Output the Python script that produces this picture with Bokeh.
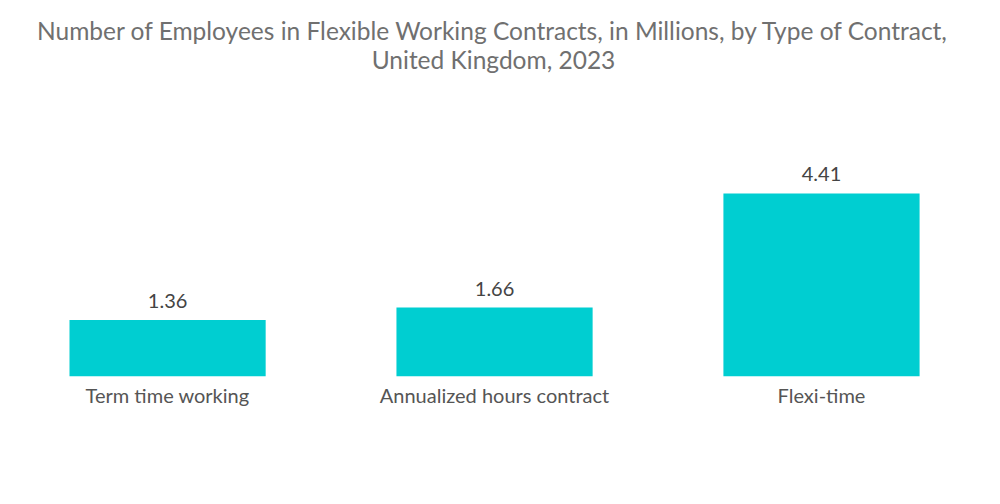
from bokeh.plotting import figure
from bokeh.models import ColumnDataSource, Range1d, Label, FixedTicker
from bokeh.core.properties import value
from bokeh.embed import file_html
from bokeh.resources import INLINE

categories = ["Term time working", "Annualized hours contract", "Flexi-time"]
values = [1.36, 1.66, 4.41]
value_labels = ["1.36", "1.66", "4.41"]
title_lines = ["Number of Employees in Flexible Working Contracts, in Millions, by Type of Contract,",
               "United Kingdom, 2023"]

FONT = "Lato"
BAR = "#00CED1"

xs = list(range(len(categories)))
src = ColumnDataSource(dict(x=xs, top=values, lab=value_labels))

p = figure(width=992, height=496, output_backend="svg", toolbar_location=None,
           x_range=Range1d(-0.511, 2.523), y_range=Range1d(0, 376 / 41.5),
           min_border_left=0, min_border_right=0, min_border_top=0, min_border_bottom=120)
p.outline_line_color = None
p.grid.visible = False
p.yaxis.visible = False

p.vbar(x="x", top="top", width=0.6, bottom=0, source=src, color=BAR, line_color=None)
p.text(x="x", y="top", text="lab", source=src, text_align="center", text_baseline="bottom",
       y_offset=-12, text_font=value(FONT), text_font_size="20px", text_color="#444444")

ax = p.xaxis[0]
ax.ticker = FixedTicker(ticks=xs)
ax.major_label_overrides = {i: c for i, c in enumerate(categories)}
ax.axis_line_color = None
ax.major_tick_line_color = None
ax.minor_tick_line_color = None
ax.major_label_standoff = 0
ax.major_label_text_font = FONT
ax.major_label_text_font_size = "20px"
ax.major_label_text_color = "#555555"

p.add_layout(Label(x=493, y=346, x_units="screen", y_units="screen", text=title_lines[0],
                   text_align="center", text_baseline="middle", text_font=FONT,
                   text_font_size="24.5px", text_color="#707070"))
p.add_layout(Label(x=493, y=317, x_units="screen", y_units="screen", text=title_lines[1],
                   text_align="center", text_baseline="middle", text_font=FONT,
                   text_font_size="24.5px", text_color="#707070"))

open("out.html", "w").write(file_html(p, INLINE))
